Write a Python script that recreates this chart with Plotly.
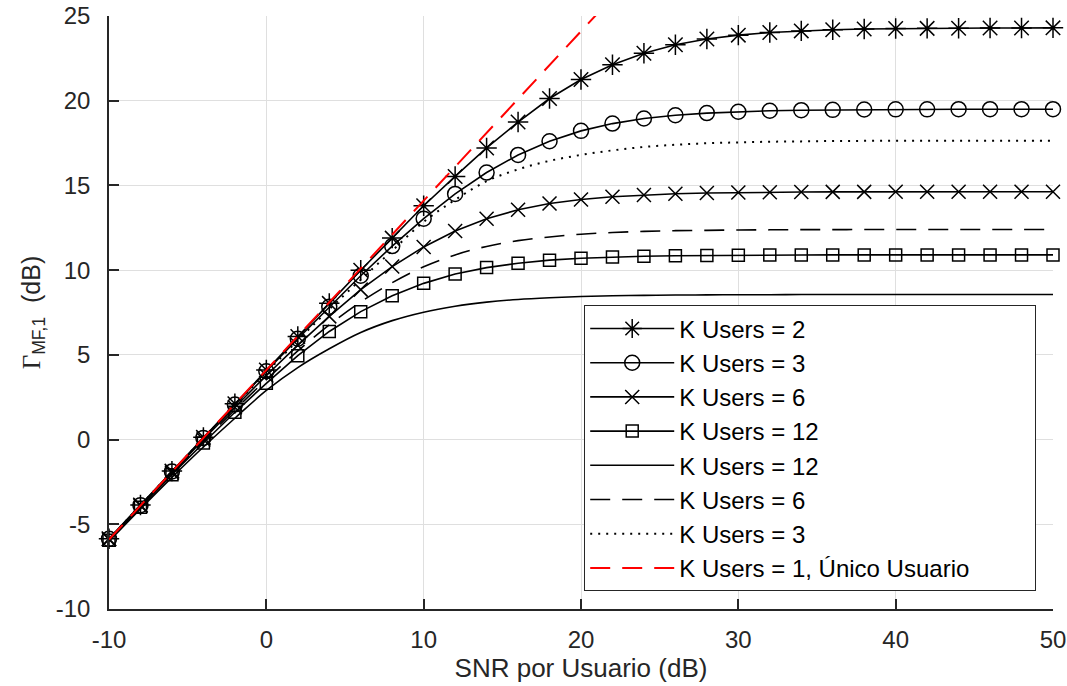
import plotly.graph_objects as go

# SNR per user (dB)
snr = [-10, -8, -6, -4, -2, 0, 2, 4, 6, 8, 10, 12, 14, 16, 18, 20, 22, 24, 26, 28,
       30, 32, 34, 36, 38, 40, 42, 44, 46, 48, 50]

k2_star = [-5.85, -3.86, -1.86, 0.13, 2.12, 4.11, 6.08, 8.04, 9.99, 11.89, 13.80,
           15.53, 17.21, 18.74, 20.13, 21.25, 22.12, 22.80, 23.30, 23.64, 23.87,
           24.03, 24.12, 24.19, 24.23, 24.26, 24.27, 24.28, 24.29, 24.29, 24.30]
k3_circle = [-5.86, -3.87, -1.88, 0.10, 2.07, 4.03, 5.95, 7.84, 9.67, 11.42, 13.04,
             14.50, 15.76, 16.80, 17.61, 18.22, 18.65, 18.95, 19.14, 19.27, 19.35,
             19.41, 19.44, 19.46, 19.48, 19.49, 19.49, 19.50, 19.50, 19.50, 19.50]
k6_x = [-5.89, -3.91, -1.95, 0.00, 1.91, 3.78, 5.57, 7.27, 8.85, 10.21, 11.37,
        12.31, 13.03, 13.56, 13.93, 14.17, 14.33, 14.44, 14.51, 14.55, 14.58,
        14.60, 14.61, 14.62, 14.62, 14.63, 14.63, 14.63, 14.63, 14.63, 14.63]
k12_square = [-5.94, -3.99, -2.07, -0.20, 1.61, 3.32, 4.95, 6.38, 7.55, 8.49, 9.22,
              9.77, 10.15, 10.41, 10.59, 10.70, 10.77, 10.82, 10.85, 10.87, 10.88,
              10.89, 10.89, 10.90, 10.90, 10.90, 10.90, 10.90, 10.90, 10.90, 10.90]
k12_line = [-6.00, -4.09, -2.23, -0.44, 1.26, 2.90, 4.25, 5.36, 6.32, 7.02, 7.52,
            7.87, 8.11, 8.27, 8.37, 8.44, 8.49, 8.51, 8.53, 8.54, 8.55,
            8.55, 8.56, 8.56, 8.56, 8.56, 8.56, 8.56, 8.56, 8.56, 8.56]
k6_line = [-5.92, -3.95, -2.01, -0.10, 1.76, 3.54, 5.23, 6.77, 8.12, 9.26, 10.20,
           10.90, 11.40, 11.74, 11.96, 12.12, 12.22, 12.29, 12.33, 12.35, 12.37,
           12.38, 12.39, 12.39, 12.40, 12.40, 12.40, 12.40, 12.40, 12.40, 12.40]
k3_line = [-5.87, -3.88, -1.90, 0.07, 2.03, 3.96, 5.85, 7.69, 9.44, 11.15, 12.85,
           14.15, 15.25, 15.95, 16.45, 16.80, 17.07, 17.27, 17.40, 17.49, 17.54,
           17.58, 17.60, 17.62, 17.63, 17.64, 17.64, 17.64, 17.64, 17.64, 17.64]

snr_single = [-10, -8, -6, -4, -2, 0, 2, 4, 6, 8, 10, 12, 14, 16, 18, 20, 22]
k1_single = [-5.9, -3.9, -1.9, 0.1, 2.1, 4.1, 6.1, 8.1, 10.1, 12.1, 14.1, 16.1,
             18.1, 20.1, 22.1, 24.1, 26.1]

names = ["K Users = 2", "K Users = 3", "K Users = 6", "K Users = 12",
         "K Users = 12", "K Users = 6", "K Users = 3", "K Users = 1, Único Usuario"]

x_ticks = [-10, 0, 10, 20, 30, 40, 50]
x_ticktext = ["-10", "0", "10", "20", "30", "40", "50"]
y_ticks = [-10, -5, 0, 5, 10, 15, 20, 25]
y_ticktext = ["-10", "-5", "0", "5", "10", "15", "20", "25"]

FONT = "Liberation Sans, Arial, Helvetica, sans-serif"
TXT = "#262626"
PAD = "\u00a0" * 9  # right padding inside the legend box
fig = go.Figure()

def marked(y, name, symbol, size):
    fig.add_trace(go.Scatter(
        x=snr, y=y, name=name, mode="lines+markers",
        line=dict(color="black", width=1.6),
        marker=dict(symbol=symbol, size=size, color="black",
                    line=dict(color="black", width=1.5)),
        cliponaxis=False))

marked(k2_star, names[0], "asterisk-open", 17)
marked(k3_circle, names[1], "circle-open", 15)
marked(k6_x, names[2], "x-thin-open", 14)
marked(k12_square, names[3], "square-open", 12)

fig.add_trace(go.Scatter(x=snr, y=k12_line, name=names[4], mode="lines",
                         line=dict(color="black", width=1.6, shape="spline")))
fig.add_trace(go.Scatter(x=snr, y=k6_line, name=names[5], mode="lines",
                         line=dict(color="black", width=1.6, dash="20px,12px", shape="spline")))
fig.add_trace(go.Scatter(x=snr, y=k3_line, name=names[6], mode="lines",
                         line=dict(color="black", width=2, dash="2px,6px", shape="spline")))
fig.add_trace(go.Scatter(x=snr_single, y=k1_single, name=names[7] + PAD, mode="lines",
                         line=dict(color="#ff0000", width=2, dash="20px,12px")))

axis_common = dict(
    showline=True, linecolor=TXT, linewidth=1.5, mirror=False,
    ticks="inside", ticklen=10, tickwidth=1.5, tickcolor=TXT,
    showgrid=True, gridcolor="#dfdfdf", gridwidth=1.2, zeroline=False,
    tickfont=dict(family=FONT, size=24, color=TXT), automargin=False,
)

fig.update_xaxes(range=[-10, 50], tickvals=x_ticks, ticktext=x_ticktext,
                 ticklabelstandoff=8,
                 title=dict(text="SNR por Usuario (dB)", standoff=6,
                            font=dict(family=FONT, size=26, color=TXT)),
                 **axis_common)
fig.update_yaxes(range=[-10, 25], tickvals=y_ticks, ticktext=y_ticktext,
                 ticklabelstandoff=12,
                 title=dict(text='<span style="font-family:Liberation Serif, Times New Roman, serif">Γ</span>'
                                 '<sub>MF,1</sub>\u00a0\u00a0(dB)',
                            standoff=8,
                            font=dict(family=FONT, size=25, color=TXT)),
                 **axis_common)

fig.update_layout(
    width=1067, height=686,
    margin=dict(l=109, r=14, t=16, b=77),
    plot_bgcolor="white", paper_bgcolor="white",
    font=dict(family=FONT, size=24, color=TXT),
    legend=dict(x=0.982, y=0.03, xanchor="right", yanchor="bottom",
                bgcolor="white", bordercolor=TXT, borderwidth=1.2,
                font=dict(family=FONT, size=24, color="black"),
                itemwidth=84, tracegroupgap=0, traceorder="normal"),
)

fig.write_html("out.html")
